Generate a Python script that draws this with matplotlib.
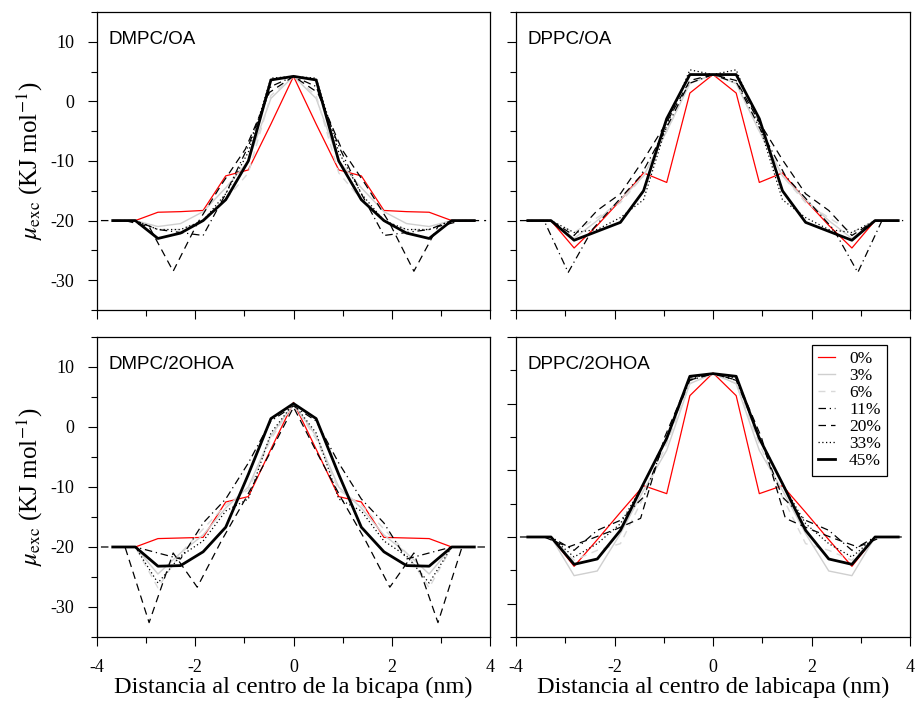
import numpy as np
import matplotlib.pyplot as plt
from matplotlib.ticker import MultipleLocator

plt.rcParams['font.family'] = ['Liberation Serif', 'DejaVu Serif']
plt.rcParams['mathtext.fontset'] = 'stix'
plt.rcParams['axes.unicode_minus'] = False

# posiciones (nm) de cada perfil
x46 = [-3.68, -3.22, -2.76, -2.30, -1.84, -1.38, -0.92, -0.46, 0.0,
       0.46, 0.92, 1.38, 1.84, 2.30, 2.76, 3.22, 3.68]
x47 = [-3.76, -3.29, -2.82, -2.35, -1.88, -1.41, -0.94, -0.47, 0.0,
       0.47, 0.94, 1.41, 1.88, 2.35, 2.82, 3.29, 3.76]
x49 = [-3.92, -3.43, -2.94, -2.45, -1.96, -1.47, -0.98, -0.49, 0.0,
       0.49, 0.98, 1.47, 1.96, 2.45, 2.94, 3.43, 3.92]

labels = ['0%', '3%', '6%', '11%', '20%', '33%', '45%']

# DMPC/OA
dmpc_oa_00 = [-20, -20, -18.6, -18.5, -18.3, -12.5, -11.5, -3.8, 4.2, -3.8, -11.5, -12.5, -18.3, -18.5, -18.6, -20, -20]
dmpc_oa_03 = [-20, -20, -21, -20.5, -18.5, -14.5, -10, 0.5, 4.2, 0.5, -10, -14.5, -18.5, -20.5, -21, -20, -20]
dmpc_oa_06 = [-20, -20, -21.5, -21.5, -20, -16.5, -12, 1, 4.2, 1, -12, -16.5, -20, -21.5, -21.5, -20, -20]
dmpc_oa_11 = [-20, -20, -21.5, -22, -22.5, -15.5, -7.5, 2.5, 4.2, 2.5, -7.5, -15.5, -22.5, -22, -21.5, -20, -20]
dmpc_oa_20 = [-20, -20, -21, -28.5, -20.5, -14, -8, 1.5, 4.2, 1.5, -8, -14, -20.5, -28.5, -21, -20, -20]
dmpc_oa_33 = [-20, -20, -21.5, -21.5, -20, -15.5, -8.5, 3.9, 4.2, 3.9, -8.5, -15.5, -20, -21.5, -21.5, -20, -20]
dmpc_oa_45 = [-20, -20, -23, -22.1, -20, -16.5, -10, 3.6, 4.2, 3.6, -10, -16.5, -20, -22.1, -23, -20, -20]

# DPPC/OA
dppc_oa_00 = [-20, -20, -24.6, -20.8, -16.6, -12, -13.6, 1.4, 4.5, 1.4, -13.6, -12, -16.6, -20.8, -24.6, -20, -20]
dppc_oa_03 = [-20, -20, -23, -20, -16.5, -12.5, -5, 3, 4.5, 3, -5, -12.5, -16.5, -20, -23, -20, -20]
dppc_oa_06 = [-20, -20, -22, -19.5, -17, -12.5, -5, 3, 4.5, 3, -5, -12.5, -17, -19.5, -22, -20, -20]
dppc_oa_11 = [-20, -20, -28.7, -21.5, -17, -12.5, -5, 3, 4.5, 3, -5, -12.5, -17, -21.5, -28.7, -20, -20]
dppc_oa_20 = [-20, -20, -22.5, -18.3, -15.5, -9.8, -3.5, 3.5, 4.5, 3.5, -3.5, -9.8, -15.5, -18.3, -22.5, -20, -20]
dppc_oa_33 = [-20, -20, -22, -21.5, -19.5, -16.5, -4, 5.3, 4.5, 5.3, -4, -16.5, -19.5, -21.5, -22, -20, -20]
dppc_oa_45 = [-20, -20, -23.3, -21.8, -20.3, -15, -2.9, 4.5, 4.5, 4.5, -2.9, -15, -20.3, -21.8, -23.3, -20, -20]

# DMPC/2OHOA
dmpc_2o_00 = [-20, -20, -18.6, -18.5, -18.4, -12.5, -11.6, -3.7, 4.1, -3.7, -11.6, -12.5, -18.4, -18.5, -18.6, -20, -20]
dmpc_2o_03 = [-20, -20, -24.5, -21, -18, -13.5, -10, -1.5, 3.8, -1.5, -10, -13.5, -18, -21, -24.5, -20, -20]
dmpc_2o_06 = [-20, -20, -26.8, -21, -17, -13, -10.5, -2, 3.8, -2, -10.5, -13, -17, -21, -26.8, -20, -20]
dmpc_2o_11 = [-20, -20, -21, -22, -16, -12, -6, 1, 3.5, 1, -6, -12, -16, -22, -21, -20, -20]
dmpc_2o_20 = [-20, -20, -32.6, -21, -26.7, -19, -12, -4.5, 3.3, -4.5, -12, -19, -26.7, -21, -32.6, -20, -20]
dmpc_2o_33 = [-20, -20, -26, -21.5, -19, -14, -12, -1, 3.9, -1, -12, -14, -19, -21.5, -26, -20, -20]
dmpc_2o_45 = [-20, -20, -23.2, -23.1, -20.8, -16.7, -7.9, 1.4, 3.9, 1.4, -7.9, -16.7, -20.8, -23.1, -23.2, -20, -20]

# DPPC/2OHOA
dppc_2o_00 = [-20, -20, -24.4, -20.4, -16.3, -12.3, -13.5, 1.2, 4.6, 1.2, -13.5, -12.3, -16.3, -20.4, -24.4, -20, -20]
dppc_2o_03 = [-20, -20, -25.8, -25.1, -19.5, -13, -7, 3, 4.5, 3, -7, -13, -19.5, -25.1, -25.8, -20, -20]
dppc_2o_06 = [-20, -20, -23.5, -22, -21, -14, -6, 3, 4.5, 3, -6, -14, -21, -22, -23.5, -20, -20]
dppc_2o_11 = [-20, -20, -22, -19, -17.5, -14, -5, 3.5, 4.5, 3.5, -5, -14, -17.5, -19, -22, -20, -20]
dppc_2o_20 = [-20, -20, -21.5, -20.2, -18.8, -17.2, -5, 3.5, 4.5, 3.5, -5, -17.2, -18.8, -20.2, -21.5, -20, -20]
dppc_2o_33 = [-20, -20, -23, -21, -18, -12, -5, 3.8, 4.5, 3.8, -5, -12, -18, -21, -23, -20, -20]
dppc_2o_45 = [-20, -20, -24.1, -23.3, -19, -12, -5.2, 4.1, 4.5, 4.1, -5.2, -12, -19, -23.3, -24.1, -20, -20]

styles = [
    dict(color='red', lw=0.9, ls='-'),
    dict(color='#cfcfcf', lw=1.0, ls='-'),
    dict(color='#d9d9d9', lw=1.0, ls=(0, (5, 4))),
    dict(color='black', lw=0.9, ls=(0, (6, 3, 1, 3))),
    dict(color='black', lw=0.9, ls=(0, (6, 4))),
    dict(color='black', lw=0.9, ls=(0, (1, 2))),
    dict(color='black', lw=2.0, ls='-'),
]

panels = [
    ('DMPC/OA', [0.1058, 0.5578, 0.4286, 0.4251], (-35, 15),
     [(x46, dmpc_oa_00), (x46, dmpc_oa_03), (x46, dmpc_oa_06), (x46, dmpc_oa_11),
      (x49, dmpc_oa_20), (x46, dmpc_oa_33), (x46, dmpc_oa_45)]),
    ('DPPC/OA', [0.5627, 0.5578, 0.4297, 0.4251], (-35, 15),
     [(x47, dppc_oa_00), (x47, dppc_oa_03), (x47, dppc_oa_06), (x49, dppc_oa_11),
      (x47, dppc_oa_20), (x47, dppc_oa_33), (x47, dppc_oa_45)]),
    ('DMPC/2OHOA', [0.1058, 0.0913, 0.4286, 0.4280], (-35, 15),
     [(x46, dmpc_2o_00), (x46, dmpc_2o_03), (x46, dmpc_2o_06), (x46, dmpc_2o_11),
      (x49, dmpc_2o_20), (x46, dmpc_2o_33), (x46, dmpc_2o_45)]),
    ('DPPC/2OHOA', [0.5627, 0.0913, 0.4297, 0.4280], (-35, 10),
     [(x47, dppc_2o_00), (x47, dppc_2o_03), (x47, dppc_2o_06), (x47, dppc_2o_11),
      (x49, dppc_2o_20), (x47, dppc_2o_33), (x47, dppc_2o_45)]),
]

fig = plt.figure(figsize=(9.17, 7.01), dpi=100)

for i, (name, rect, ylim, series) in enumerate(panels):
    ax = fig.add_axes(rect)
    for (xs, ys), st, lab in zip(series, styles, labels):
        ax.plot(xs, ys, label=lab, **st)
    ax.set_xlim(-4, 4)
    ax.set_ylim(*ylim)
    ax.xaxis.set_major_locator(MultipleLocator(2))
    ax.xaxis.set_minor_locator(MultipleLocator(1))
    ax.yaxis.set_major_locator(MultipleLocator(10))
    ax.yaxis.set_minor_locator(MultipleLocator(5))
    ax.tick_params(which='both', direction='out', top=False, right=False,
                   width=0.8, labelsize=13)
    ax.tick_params(axis='x', pad=9)
    ax.tick_params(axis='y', pad=10)
    ax.tick_params(which='major', length=6.5)
    ax.tick_params(which='minor', length=4)
    for sp in ax.spines.values():
        sp.set_linewidth(0.9)
    ax.text(0.028, 0.935, name, transform=ax.transAxes, va='top', ha='left',
            fontsize=13.5, family='Liberation Sans')
    left = i % 2 == 0
    bottom = i >= 2
    if not left:
        ax.tick_params(labelleft=False)
    else:
        ax.set_ylabel(r'$\mu_{\rm exc}$ (KJ mol$^{-1}$)', fontsize=18, labelpad=4)
    if not bottom:
        ax.tick_params(labelbottom=False)
    if bottom:
        if left:
            ax.set_xlabel('Distancia al centro de la bicapa (nm)', fontsize=17.5, labelpad=1)
        else:
            ax.set_xlabel('Distancia al centro de labicapa (nm)', fontsize=17.5, labelpad=1)
    if i == 3:
        leg = ax.legend(loc='upper right', bbox_to_anchor=(0.942, 0.973), borderaxespad=0,
                        fontsize=12.5, handlelength=1.0, labelspacing=0.05, borderpad=0.35,
                        handletextpad=0.8, fancybox=False, framealpha=1,
                        edgecolor='black')
        leg.get_frame().set_linewidth(0.9)

fig.savefig('out.png', dpi=100)
